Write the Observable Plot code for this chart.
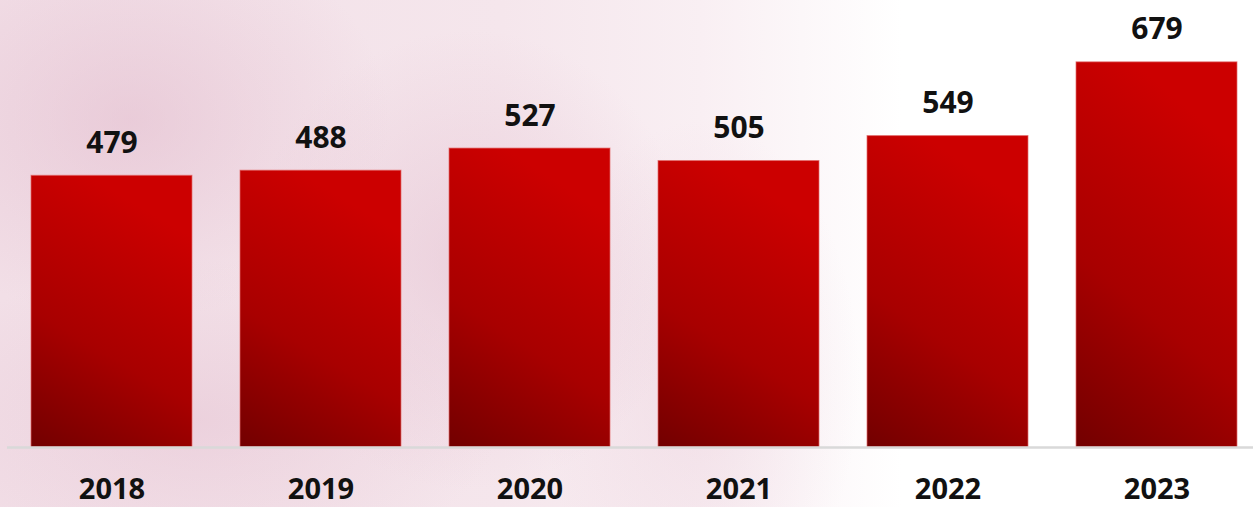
<!DOCTYPE html>
<html>
<head>
<meta charset="utf-8">
<script src="https://cdn.jsdelivr.net/npm/d3@7"></script>
<script src="https://cdn.jsdelivr.net/npm/@observablehq/plot@0.6"></script>
<style>
  html, body { margin: 0; padding: 0; background: #fff; }
  #wrap {
    width: 1253px; height: 507px; overflow: hidden;
    background:
      radial-gradient(ellipse 260px 200px at 130px 120px, rgba(222,178,198,0.45), rgba(222,178,198,0) 100%),
      radial-gradient(ellipse 220px 230px at 470px 260px, rgba(222,178,198,0.40), rgba(222,178,198,0) 100%),
      radial-gradient(ellipse 160px 260px at 700px 380px, rgba(228,192,208,0.35), rgba(228,192,208,0) 100%),
      radial-gradient(ellipse 300px 160px at 200px 420px, rgba(222,178,198,0.35), rgba(222,178,198,0) 100%),
      linear-gradient(to right, #f2dfe7 0%, #f5e6ec 40%, #f9eff3 56%, #fcf7f9 64%, #ffffff 72%);
  }
</style>
</head>
<body>
<div id="wrap"></div>
<script>
const years = ["2018", "2019", "2020", "2021", "2022", "2023"];
const values = [479, 488, 527, 505, 549, 679];

const data = years.map((year, i) => ({year, value: values[i]}));

const chart = Plot.plot({
  width: 1253,
  height: 507,
  marginTop: 0,
  marginBottom: 60,
  marginLeft: 7,
  marginRight: 0,
  style: {background: "transparent", fontFamily: "'Open Sans', sans-serif", color: "#111"},
  x: {domain: years, range: [6.5, 1261.5], paddingInner: 0.23, paddingOuter: 0.115, label: null},
  y: {domain: [0, 788], axis: null},
  marks: [
    Plot.barY(data, {x: "year", y: "value", fill: "#c00000", stroke: "#e26a6a", strokeWidth: 1, strokeOpacity: 0.7}),
    Plot.ruleY([0], {stroke: "#d9d9d9", strokeWidth: 2.5}),
    Plot.text(data, {x: "year", y: "value", text: d => String(d.value), dy: -23, lineAnchor: "bottom",
      fontSize: 30, fontWeight: 700, fill: "#111"}),
    Plot.axisX({tickSize: 0, tickPadding: 31, fontSize: 29, fontWeight: 700, fill: "#111", label: null})
  ]
});

// gradient definition for bars
const svg = d3.select(chart);
const defs = svg.insert("defs", ":first-child");
const grad = defs.append("linearGradient")
  .attr("id", "barGrad")
  .attr("x1", 0).attr("y1", 1).attr("x2", 0.35).attr("y2", 0);
grad.append("stop").attr("offset", "0%").attr("stop-color", "#720000");
grad.append("stop").attr("offset", "45%").attr("stop-color", "#a80000");
grad.append("stop").attr("offset", "100%").attr("stop-color", "#cc0000");
svg.selectAll("g[aria-label='bar']").attr("fill", "url(#barGrad)");
svg.selectAll("g[aria-label='bar'] rect").attr("fill", "url(#barGrad)");

document.getElementById("wrap").appendChild(chart);
</script>
</body>
</html>
